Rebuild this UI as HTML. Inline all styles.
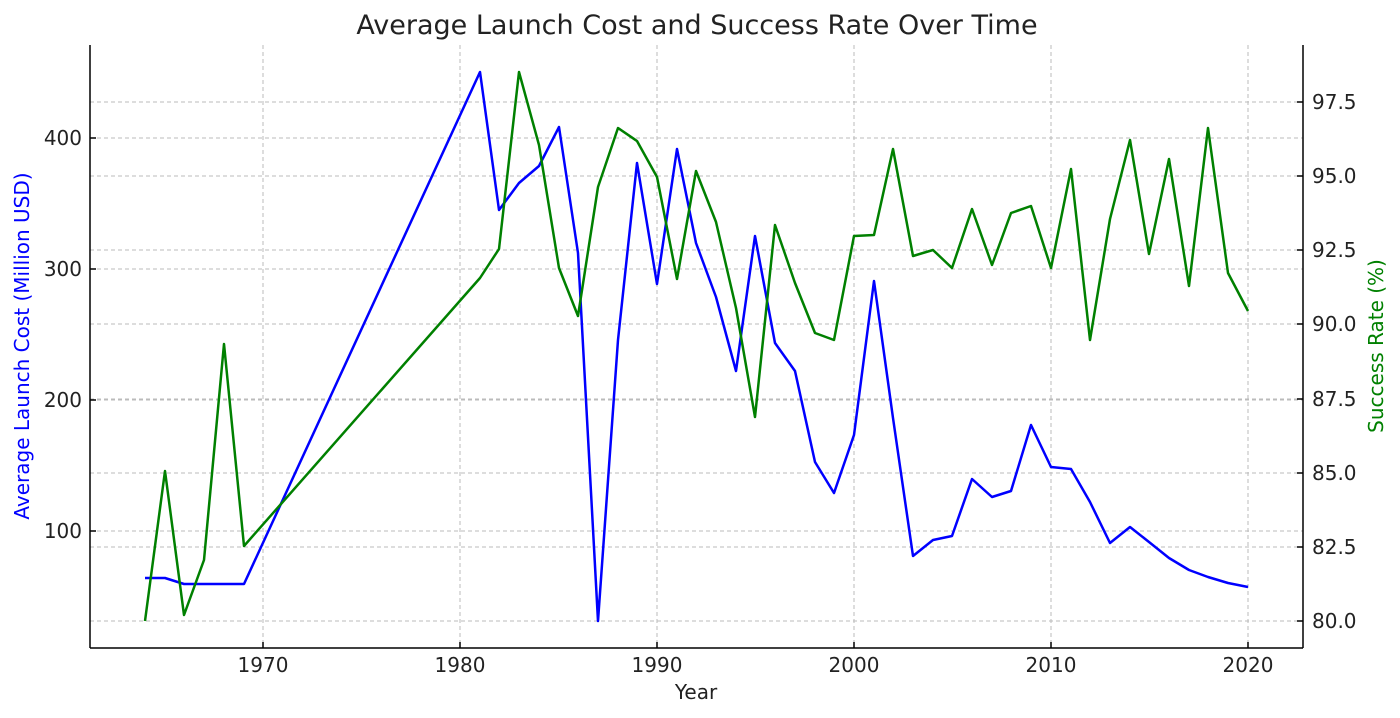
<!DOCTYPE html>
<html><head><meta charset="utf-8"><style>body{margin:0;background:#fff}svg{display:block}text{font-family:"DejaVu Sans","Liberation Sans",sans-serif}</style></head><body>
<svg width="1400" height="718" viewBox="0 0 1400 718" xmlns="http://www.w3.org/2000/svg">
<rect width="1400" height="718" fill="#fff"/>
<g stroke="#bbbbbb" stroke-width="1" stroke-dasharray="4,3">
<line x1="263" y1="45" x2="263" y2="648"/><line x1="460" y1="45" x2="460" y2="648"/><line x1="657" y1="45" x2="657" y2="648"/><line x1="854" y1="45" x2="854" y2="648"/><line x1="1051" y1="45" x2="1051" y2="648"/><line x1="1248" y1="45" x2="1248" y2="648"/>
<line x1="90" y1="138" x2="1303" y2="138"/><line x1="90" y1="269" x2="1303" y2="269"/><line x1="90" y1="400" x2="1303" y2="400"/><line x1="90" y1="531" x2="1303" y2="531"/>
<line x1="90" y1="621" x2="1303" y2="621"/><line x1="90" y1="547" x2="1303" y2="547"/><line x1="90" y1="473" x2="1303" y2="473"/><line x1="90" y1="399" x2="1303" y2="399"/><line x1="90" y1="324" x2="1303" y2="324"/><line x1="90" y1="250" x2="1303" y2="250"/><line x1="90" y1="176" x2="1303" y2="176"/><line x1="90" y1="102" x2="1303" y2="102"/>
</g>
<g stroke="#000" stroke-width="1.5" fill="none">
<line x1="90" y1="45" x2="90" y2="648"/><line x1="90" y1="648" x2="1303" y2="648"/><line x1="1303" y1="45" x2="1303" y2="648"/>
<path d="M90 138h6M90 269h6M90 400h6M90 531h6M263 648v-6M460 648v-6M657 648v-6M854 648v-6M1051 648v-6M1248 648v-6M1303 621h-6M1303 547h-6M1303 473h-6M1303 399h-6M1303 324h-6M1303 250h-6M1303 176h-6M1303 102h-6"/>
</g>
<polyline fill="none" stroke="#0000ff" stroke-width="2.5" stroke-linejoin="round" points="145,578 165,578 184,584 204,584 224,584 244,584 480,72 499,210 519,183 539,166 559,127 578,253 598,621 618,340 637,163 657,284 677,149 696,243 716,297 736,371 755,236 775,343 795,371 815,462 834,493 854,435 874,281 893,418 913,556 933,540 952,536 972,479 992,497 1011,491 1031,425 1051,467 1071,469 1090,502 1110,543 1130,527 1149,542 1169,558 1189,570 1208,577 1228,583 1248,587"/>
<polyline fill="none" stroke="#008000" stroke-width="2.5" stroke-linejoin="round" points="145,621 165,471 184,615 204,560 224,344 244,546 480,278 499,249 519,72 539,145 559,268 578,316 598,187 618,128 637,141 657,177 677,279 696,171 716,222 736,308 755,417 775,225 795,283 815,333 834,340 854,236 874,235 893,149 913,256 933,250 952,268 972,209 992,265 1011,213 1031,206 1051,268 1071,169 1090,340 1110,219 1130,140 1149,254 1169,159 1189,286 1208,128 1228,273 1248,311"/>
<g font-size="20" fill="#222">
<g text-anchor="end"><text x="82" y="145">400</text><text x="82" y="276">300</text><text x="82" y="407">200</text><text x="82" y="538">100</text></g>
<g text-anchor="middle"><text x="263" y="672">1970</text><text x="460" y="672">1980</text><text x="657" y="672">1990</text><text x="854" y="672">2000</text><text x="1051" y="672">2010</text><text x="1248" y="672">2020</text></g>
<g><text x="1312" y="628">80.0</text><text x="1312" y="554">82.5</text><text x="1312" y="480">85.0</text><text x="1312" y="406">87.5</text><text x="1312" y="331">90.0</text><text x="1312" y="257">92.5</text><text x="1312" y="183">95.0</text><text x="1312" y="109">97.5</text></g>
<text x="696" y="699" text-anchor="middle">Year</text>
</g>
<text x="697" y="34" text-anchor="middle" font-size="27" fill="#222">Average Launch Cost and Success Rate Over Time</text>
<text transform="translate(29,346) rotate(-90)" text-anchor="middle" font-size="20" fill="#0000ff">Average Launch Cost (Million USD)</text>
<text transform="translate(1383,346) rotate(-90)" text-anchor="middle" font-size="20" fill="#008000">Success Rate (%)</text>
</svg>
</body></html>
